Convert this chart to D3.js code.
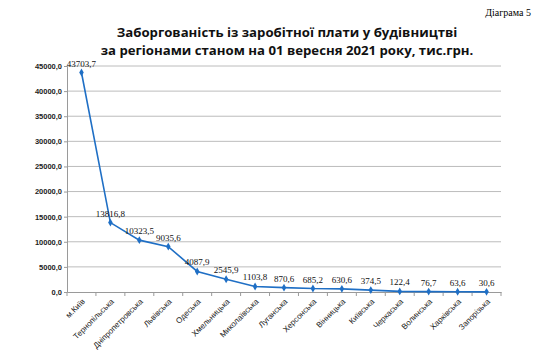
<!DOCTYPE html>
<html><head><meta charset="utf-8">
<script src="https://cdn.jsdelivr.net/npm/d3@7"></script>
<style>body{margin:0;background:#fff}svg{display:block}</style>
</head><body><svg id="c" width="540" height="360"></svg>
<script>
const categories = ["м.Київ","Тернопільська","Дніпропетровська","Львівська","Одеська","Хмельницька","Миколаївська","Луганська","Херсонська","Вінницька","Київська","Черкаська","Волинська","Харківська","Запорізька"];
const values = [43703.7,13816.8,10323.5,9035.6,4087.9,2545.9,1103.8,870.6,685.2,630.6,374.5,122.4,76.7,63.6,30.6];
const yTicks = [0,5000,10000,15000,20000,25000,30000,35000,40000,45000];
const titleLines = ["Заборгованість із заробітної плати у будівництві","за регіонами станом на 01 вересня 2021 року, тис.грн."];
const note = "Діаграма 5";

(function(){
const svg = d3.select("#c");
const pl = 67, pr = 501, pt = 66, pb = 292;
const x = d3.scaleBand().domain(categories).range([pl, pr]);
const y = d3.scaleLinear().domain([0,45000]).range([pb, pt]);
const fmt = v => d3.format(".1f")(v).replace(".", ",");

svg.append("text").attr("x",531).attr("y",16).attr("text-anchor","end")
  .attr("font-family","Liberation Serif, Times New Roman, serif").attr("font-size",10).text(note);
svg.selectAll(".title").data(titleLines).join("text")
  .attr("x",287).attr("y",(d,i)=>37+i*18).attr("text-anchor","middle")
  .attr("font-family","Open Sans, Liberation Sans, Arial, sans-serif").attr("font-weight","bold").attr("font-size",13.2)
  .attr("fill","#111").text(d=>d);

svg.append("g").selectAll("line").data(yTicks.filter(d=>d>0)).join("line")
  .attr("x1",pl).attr("x2",pr).attr("y1",d=>y(d)).attr("y2",d=>y(d))
  .attr("stroke","#bcbcbc").attr("stroke-width",1);

const ya = svg.append("g").attr("transform",`translate(${pl},0)`)
  .call(d3.axisLeft(y).tickValues(yTicks).tickFormat(fmt).tickSize(3).tickPadding(2));
ya.select(".domain").attr("stroke","#9a9a9a");
ya.selectAll(".tick line").attr("stroke","#9a9a9a");
ya.selectAll("text").attr("font-family","Liberation Sans, Arial, sans-serif").attr("font-size",7.5)
  .attr("font-weight","bold").attr("fill","#222");

const xa = svg.append("g").attr("transform",`translate(0,${pb})`)
  .call(d3.axisBottom(x).tickSize(0).tickFormat(""));
xa.select(".domain").attr("stroke","#9a9a9a");
svg.append("g").selectAll("line").data(categories.concat([null])).join("line")
  .attr("x1",(d,i)=>pl+i*x.bandwidth()).attr("x2",(d,i)=>pl+i*x.bandwidth())
  .attr("y1",pb).attr("y2",pb+4).attr("stroke","#9a9a9a");
svg.append("g").selectAll("text").data(categories).join("text")
  .attr("transform",d=>`translate(${x(d)+x.bandwidth()/2+4},${pb+10}) rotate(-45)`)
  .attr("text-anchor","end").attr("font-family","Liberation Sans, Arial, sans-serif")
  .attr("font-size",8).attr("fill","#222").text(d=>d);

const cx = d => x(d)+x.bandwidth()/2;
svg.append("path").datum(values)
  .attr("d", d3.line().x((v,i)=>cx(categories[i])).y(v=>y(v)))
  .attr("fill","none").attr("stroke","#1f6fc5").attr("stroke-width",1.6);
svg.append("g").selectAll("path").data(values).join("path")
  .attr("transform",(v,i)=>`translate(${cx(categories[i])},${y(v)})`)
  .attr("d", d3.symbol(d3.symbolDiamond, 18)).attr("fill","#1f6fc5");

svg.append("g").selectAll("text").data(values).join("text")
  .attr("x",(v,i)=>cx(categories[i])).attr("y",(v,i)=>y(v)-6)
  .attr("text-anchor","middle").attr("font-family","Liberation Serif, Times New Roman, serif")
  .attr("font-size",9).attr("fill","#111").text(v=>fmt(v));
})();
</script></body></html>
